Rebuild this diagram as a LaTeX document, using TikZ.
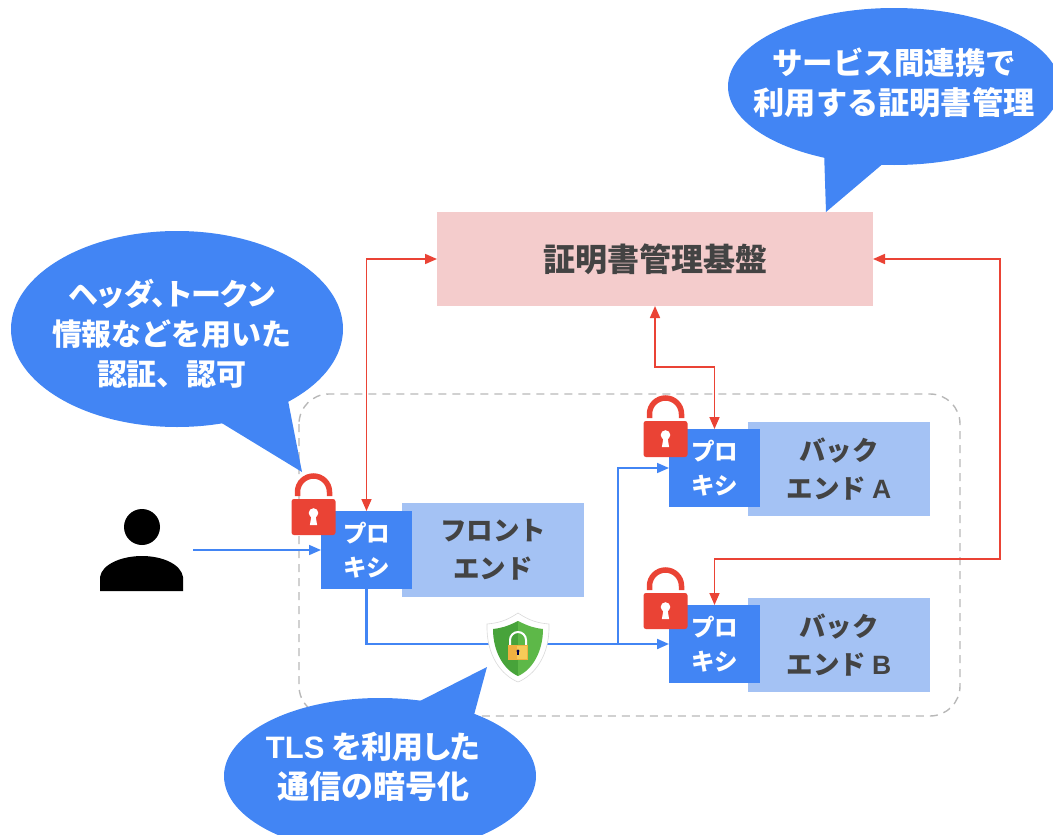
\documentclass[tikz,border=0pt]{standalone}
\usepackage{fontspec}
\setmainfont{Noto Sans CJK JP}[Kerning=Off]
\newfontfamily\paltfont{Noto Sans CJK JP}[RawFeature=+palt]
\newfontfamily\lat{Liberation Sans}
\usetikzlibrary{arrows.meta}
\definecolor{gblue}{HTML}{4285F4}
\definecolor{lblue}{HTML}{A4C2F4}
\definecolor{gred}{HTML}{EA4335}
\definecolor{pinkb}{HTML}{F4CCCC}
\definecolor{ink}{HTML}{434343}
\definecolor{shieldd}{HTML}{47A33A}
\definecolor{shieldl}{HTML}{5DB848}
\definecolor{goldd}{HTML}{F0B040}
\definecolor{goldl}{HTML}{F6CB58}
\tikzset{
  proxybox/.style={fill=gblue,minimum width=91pt,minimum height=78pt,inner sep=0pt,outer sep=0pt,text=white,align=center,font=\fontsize{23.5}{34}\selectfont\bfseries},
  svcbox/.style={fill=lblue,minimum width=182pt,minimum height=94pt,inner sep=0pt,outer sep=0pt,text=ink,align=center,font=\fontsize{26.5}{38}\selectfont\bfseries},
  certbox/.style={fill=pinkb,minimum width=436pt,minimum height=94pt,inner sep=0pt,outer sep=0pt,text=ink,font=\fontsize{32}{38}\selectfont\bfseries},
  calltext/.style={text=white,align=center,inner sep=0pt,font=\fontsize{30}{40}\selectfont\bfseries},
  redlink/.style={draw=gred,line width=1.7pt,{Triangle[length=12pt,width=10pt]}-{Triangle[length=12pt,width=10pt]}},
  bluelink/.style={draw=gblue,line width=1.7pt,-{Triangle[length=12pt,width=10pt]}},
  bubble/.style={fill=gblue},
}
\newcommand{\padlock}[2]{%
  \begin{scope}[shift={(#1,#2)}]
    \draw[gred,line width=5.5pt] (-16,-3) -- (-16,-7) arc[start angle=180,end angle=360,radius=16] -- (16,-3);
    \fill[gred,rounded corners=2.5pt] (-22,0) rectangle (22,36);
    \fill[white] (0,14) circle[radius=4.8];
    \fill[white] (-1.8,15) -- (1.8,15) -- (3.6,26) -- (-3.6,26) -- cycle;
  \end{scope}}
\begin{document}
\begin{tikzpicture}[x=1pt,y=-1pt]
\useasboundingbox (0,0) rectangle (1053,835);
\clip (0,0) rectangle (1053,835);
% dashed frame
\draw[draw=black!28,line width=1.4pt,dash pattern=on 8pt off 6pt,rounded corners=30pt] (299,394) rectangle (960,716);
% boxes
\node[certbox] (cert) at (655,259) {証明書管理基盤};
\node[svcbox] (front) at (493,550) {フロント\\エンド};
\node[svcbox] (backA) at (839,469) {バック\\エンド {\lat A}};
\node[svcbox] (backB) at (839,645) {バック\\エンド {\lat B}};
\node[proxybox] (proxyF) at (366.5,550) {プロ\\キシ};
\node[proxybox] (proxyA) at (714.5,468) {プロ\\キシ};
\node[proxybox] (proxyB) at (714.5,644) {プロ\\キシ};
% person
\coordinate (user) at (193,550);
\fill (142,527) circle[radius=18];
\fill (100,591) -- (100,577) .. controls (102,564) and (122,556) .. (142,556) .. controls (162,556) and (181,564) .. (183,577) -- (183,591) -- cycle;
% connectors
\coordinate (jF) at (proxyF.south |- proxyB.west);
\coordinate (jUp) at (618,644);
\draw[bluelink] (user) -- (proxyF.west |- user);
\draw[bluelink,line width=2.1pt] (proxyF.south) -- (jF) -- (proxyB.west);
\draw[bluelink] (jUp) -- (jUp |- proxyA.west) -- (proxyA.west);
\draw[redlink] (cert.west) -- (proxyF.north |- cert.west) -- (proxyF.north);
\draw[redlink] (cert.south) -- (655,367) -- (proxyA.north |- 0,367) -- (proxyA.north);
\draw[redlink] (cert.east) -- (1000,259) -- (1000,559) -- (proxyB.north |- 0,559) -- (proxyB.north);
% padlocks
\padlock{313.5}{499}
\padlock{665.5}{421}
\padlock{665.5}{593}
% shield
\draw[draw=black!15,fill=white,line width=.6pt] (518,613) .. controls (530,621) and (538,623) .. (549,624) .. controls (550,655) and (535,675) .. (518,682) .. controls (501,675) and (486,655) .. (487,624) .. controls (498,623) and (506,621) .. (518,613) -- cycle;
\fill[shieldd] (518,621) .. controls (506,627) and (501,628) .. (493,629) .. controls (493,652) and (504,670) .. (518,676) -- cycle;
\fill[shieldl] (518,621) .. controls (530,627) and (535,628) .. (543,629) .. controls (543,652) and (532,670) .. (518,676) -- cycle;
\draw[white,line width=2pt] (510,646) -- (510,640) arc[start angle=180,end angle=360,radius=8] -- (526,646);
\fill[goldd] (508,645) rectangle (528,660);
\fill[goldl] (517,646) rectangle (527,659);
\fill[black!70!blue] (518,651) circle[radius=1.7];
\fill[black!70!blue] (517.3,651) rectangle (518.7,655);
% callouts
\path[bubble] (894,86.5) ellipse[x radius=166,y radius=78.5];
\path[bubble] (826,212) -- (824,150) -- (885,162) -- cycle;
\path[bubble] (177,329) ellipse[x radius=166,y radius=98];
\path[bubble] (302,472) -- (220,422) -- (285,385) -- cycle;
\path[bubble] (380,776) ellipse[x radius=156,y radius=78];
\path[bubble] (487,667) -- (418,702) -- (474,715) -- cycle;
\node[calltext] (c1) at (894,83) {\fontsize{30.5}{38}\selectfont サービス間連携で\\\fontsize{31.2}{38}\selectfont 利用する証明書管理};
\node[calltext] (c2) at (172,334) {{\paltfont ヘッダ、トークン}\\情報などを用いた\\認証、認可};
\node[calltext] (c3) at (373,767) {\fontsize{31}{40}\selectfont {\lat TLS} {\paltfont を利用した}\\\fontsize{32}{40}\selectfont 通信の暗号化};
\end{tikzpicture}
\end{document}
